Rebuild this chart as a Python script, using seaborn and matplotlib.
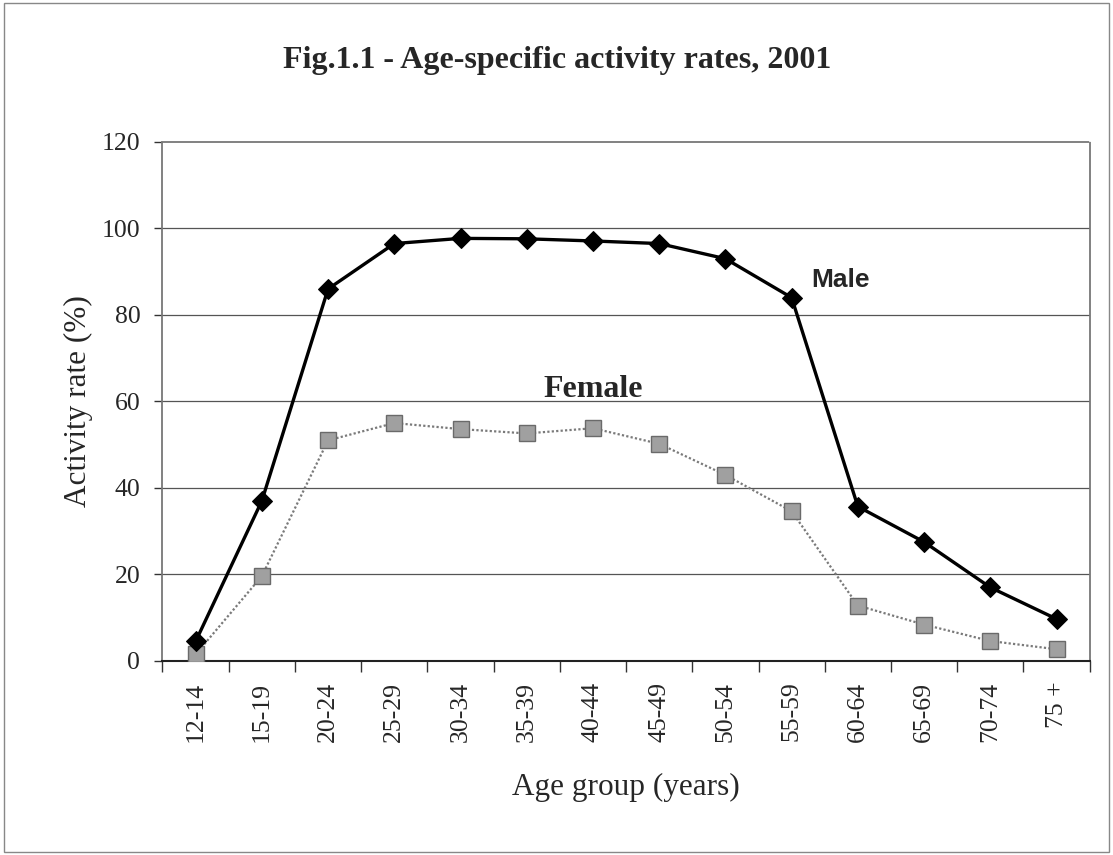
import numpy as np
import pandas as pd
import matplotlib
matplotlib.use("Agg")
import matplotlib.pyplot as plt
import matplotlib.ticker as mtick
from matplotlib.patches import Rectangle
import seaborn as sns

# data
age_groups = ['12-14', '15-19', '20-24', '25-29', '30-34', '35-39', '40-44',
              '45-49', '50-54', '55-59', '60-64', '65-69', '70-74', '75 +']
male = [4.5, 37.0, 86.0, 96.5, 97.7, 97.6, 97.1, 96.5, 93.0, 84.0, 35.7, 27.5, 17.0, 9.7]
female = [1.5, 19.6, 51.0, 55.0, 53.6, 52.6, 53.8, 50.2, 43.0, 34.6, 12.8, 8.4, 4.6, 2.7]

df = pd.DataFrame({'age': age_groups, 'Male': male, 'Female': female})
df['pos'] = np.arange(len(df))

sns.set_style("white")
plt.rcParams['font.family'] = ['Liberation Serif', 'DejaVu Serif']

fig = plt.figure(figsize=(11.13, 8.55), dpi=100)
ax = fig.add_axes([0.146, 0.227, 0.833, 0.607])

# horizontal grid
for v in [20, 40, 60, 80, 100]:
    ax.axhline(v, color='#555555', lw=0.9, zorder=0)

# --- lines ---
sns.lineplot(data=df, x='pos', y='Female', ax=ax, color='#7a7a7a', lw=1.6,
             linestyle=(0, (1, 1)), marker='s', markersize=11,
             markerfacecolor='#a0a0a0', markeredgecolor='#6a6a6a',
             markeredgewidth=1.0, zorder=3)
sns.lineplot(data=df, x='pos', y='Male', ax=ax, color='black', lw=2.4,
             marker='D', markersize=10, markerfacecolor='black',
             markeredgecolor='black', zorder=4)

ax.set_xlim(-0.5, len(age_groups) - 0.5)
ax.set_ylim(0, 120)

# y axis
ax.yaxis.set_major_locator(mtick.MultipleLocator(20))
ax.tick_params(axis='y', labelsize=18.5, direction='out', length=6, width=1,
               color='#333333', left=True, pad=10)
ax.set_ylabel('Activity rate (%)', fontsize=22.5, labelpad=6)

# x axis: labels at category centres, tick marks at boundaries
ax.set_xticks(df['pos'])
ax.set_xticklabels(age_groups, rotation=90, fontsize=18.5)
ax.tick_params(axis='x', length=0, pad=15)
ax.set_xticks(np.arange(-0.5, len(age_groups)), minor=True)
ax.tick_params(axis='x', which='minor', direction='out', length=8, width=1,
               color='#333333', bottom=True)
ax.set_xlabel('Age group (years)', fontsize=22.5, labelpad=22)

# frame: solid bottom, dotted grey on other sides
for side in ['top', 'right', 'left']:
    ax.spines[side].set_color('#777777')
    ax.spines[side].set_linestyle((0, (1, 1)))
    ax.spines[side].set_linewidth(1.3)
ax.spines['bottom'].set_color('#222222')
ax.spines['bottom'].set_linewidth(1.5)

# series labels
ax.text(9.74, 88, 'Male', fontsize=19, fontweight='bold',
        family=['Liberation Sans', 'DejaVu Sans'], ha='center', va='center')
ax.text(6.0, 62.8, 'Female', fontsize=23, fontweight='bold',
        ha='center', va='center')

fig.text(0.501, 0.929, 'Fig.1.1 - Age-specific activity rates, 2001',
         fontsize=23, fontweight='bold', ha='center', va='center')

# outer border of the figure
fig.patches.append(Rectangle((0.004, 0.004), 0.992, 0.992, transform=fig.transFigure,
                             fill=False, edgecolor='#888888', lw=1.0))

fig.savefig('out.png', dpi=100)
